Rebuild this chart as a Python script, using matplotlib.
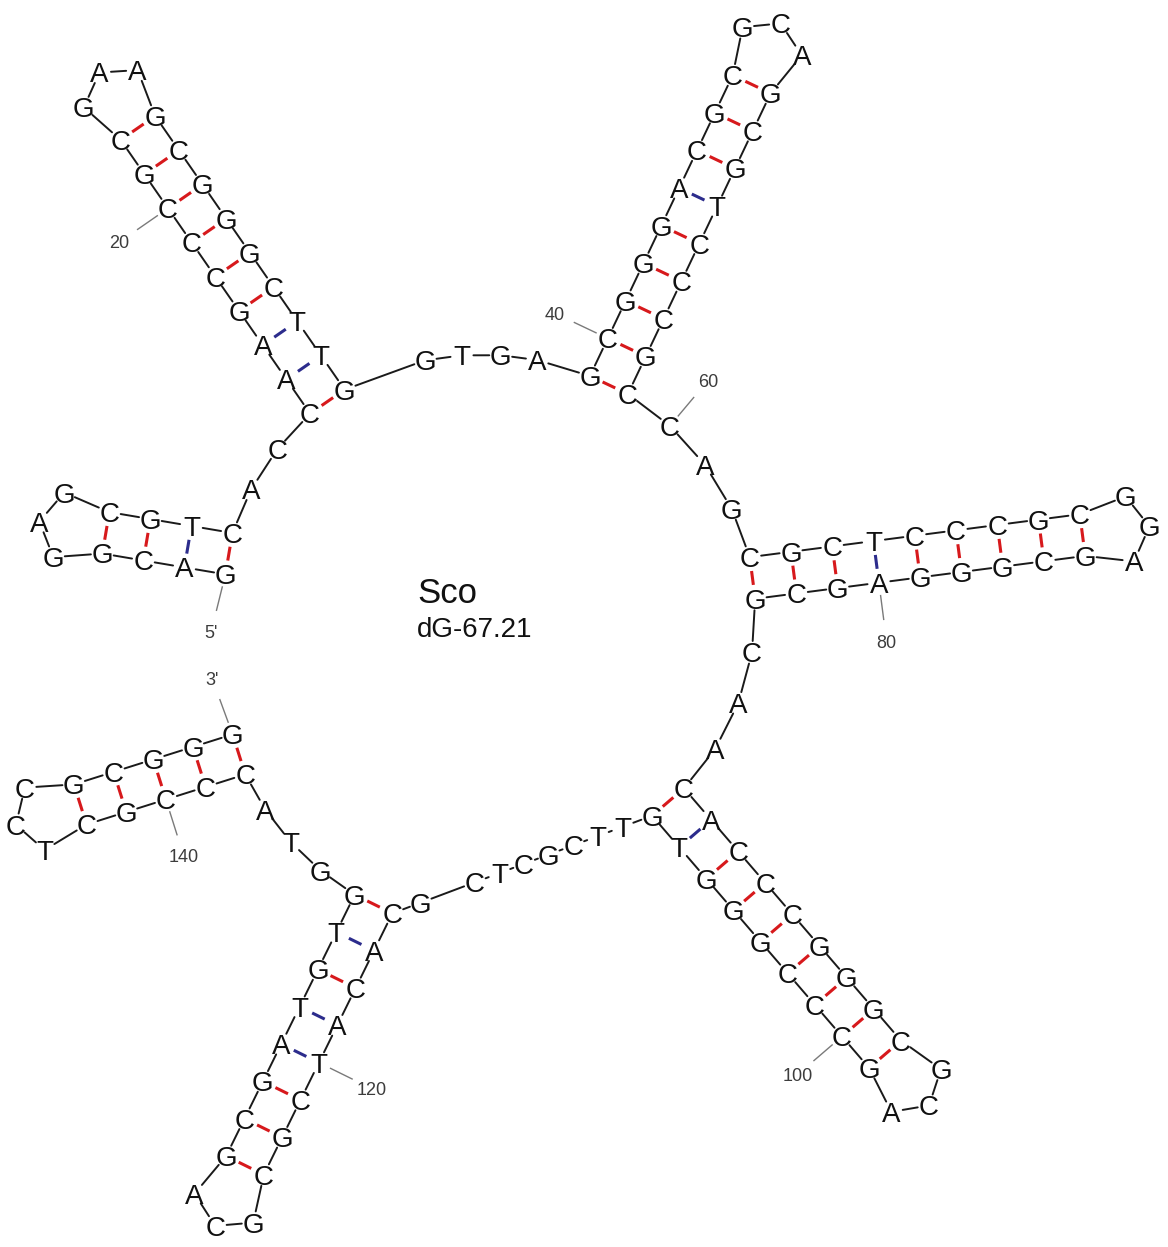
import numpy as np
import matplotlib
matplotlib.use("Agg")
import matplotlib.pyplot as plt

# ---------------- molecule ----------------
molecule_name = "Sco"
free_energy = "dG-67.21"

sequence = (
    "GACGGAGCGTC" "AC"
    "CAAGCCCGCGAAGCGGGCTTG" "GTGA"
    "GCGGGACGCGCAGCGTCCCGC" "CAG"
    "CGCTCCCGCGGAGCGGGAGCG" "CAA"
    "CACCCGGGCGCAGCCCGGGTG" "TTCGCTCG"
    "CACATCGCGCAGCGATGTG" "GTA"
    "CCCGCTCCGCGGG"
)
structure = (
    "((((...))))" ".."
    "(((((((((...)))))))))" "...."
    "(((((((((...)))))))))" "..."
    "(((((((((...)))))))))" "..."
    "(((((((((...)))))))))" "........"
    "((((((((...))))))))" "..."
    "(((((...)))))"
)
numbering_step = 20

# ---------------- layout (pixels) ----------------
WIDTH, HEIGHT = 1168, 1247
LOOP_CENTER = np.array([490.0, 640.0])
PAIR_WIDTH = 42.0
STACK_STEP = 41.6
HAIRPIN_RADIUS = 37.0
HAIRPIN_END_WEIGHT = 1.34
# helix placement, keyed by 5' base number: (anchor angle, anchor radius, helix angle)
HELIX_PLACEMENT = {
    1: (-161.7, 275.0, -170.4),
    14: (-124.3, 288.6, -124.7),
    39: (-65.0, 281.4, -64.6),
    63: (-13.3, 269.7, -7.4),
    87: (42.3, 240.7, 49.3),
    116: (113.8, 288.6, 116.2),
    138: (155.5, 275.9, 162.5),
}
# exterior linkers drawn as straight runs (keyed by the base preceding them)
FLAT_LINKERS = {107}
# relative spacing of the gaps along selected linkers (keyed the same way)
LINKER_WEIGHTS = {
    34: [2.3, 1.0, 1.05, 1.0, 1.5],
    107: [1.2, 1.0, 1.0, 1.0, 1.0, 1.0, 1.0, 2.2, 1.15],
}

BASE_FONT = 20
LABEL_FONT = 13
PX_PER_PT = 100 / 72
CAP = 0.716

BOND_COLORS = {frozenset("GC"): "#d7191c", frozenset("AT"): "#2c2c8c",
               frozenset("GT"): "#2c9c2c"}


def unit(deg):
    r = np.radians(deg)
    return np.array([np.cos(r), np.sin(r)])


def polar(pt):
    v = pt - LOOP_CENTER
    return np.hypot(*v), np.arctan2(v[1], v[0])


# ---------------- pairing ----------------
N = len(sequence)
partner = [-1] * N
stack = []
for k, ch in enumerate(structure):
    if ch == "(":
        stack.append(k)
    elif ch == ")":
        o = stack.pop()
        partner[o] = k
        partner[k] = o

helices = []
k = 0
while k < N:
    if partner[k] > k:
        i, j = k, partner[k]
        n = 0
        while i + n < j - n and partner[i + n] == j - n:
            n += 1
        helices.append((i, j, n))
        k = j + 1
    else:
        k += 1

pos = np.zeros((N, 2))
outward = np.zeros((N, 2))

# helices and their hairpin loops
for i, j, n in helices:
    a_ang, a_rad, h_ang = HELIX_PLACEMENT[i + 1]
    d = unit(h_ang)
    p = np.array([-d[1], d[0]])
    m0 = LOOP_CENTER + a_rad * unit(a_ang)
    for t in range(n):
        m = m0 + t * STACK_STEP * d
        pos[i + t] = m - PAIR_WIDTH / 2 * p
        pos[j - t] = m + PAIR_WIDTH / 2 * p
        outward[i + t] = -p
        outward[j - t] = p
    a, b = i + n - 1, j - n + 1
    m_last = m0 + (n - 1) * STACK_STEP * d
    hc = m_last + np.sqrt(HAIRPIN_RADIUS ** 2 - (PAIR_WIDTH / 2) ** 2) * d
    ta = np.arctan2(*(pos[a] - hc)[::-1])
    tb = np.arctan2(*(pos[b] - hc)[::-1])
    while tb <= ta:
        tb += 2 * np.pi
    loop = list(range(a + 1, b))
    w = np.array([HAIRPIN_END_WEIGHT] + [1.0] * (len(loop) - 1) + [HAIRPIN_END_WEIGHT])
    cum = np.cumsum(w)[:-1] / w.sum() * (tb - ta)
    for q, step in zip(loop, cum):
        th = ta + step
        e = np.array([np.cos(th), np.sin(th)])
        pos[q] = hc + HAIRPIN_RADIUS * e
        outward[q] = e

# exterior loop linkers
for (i1, j1, n1), (i2, j2, n2) in zip(helices[:-1], helices[1:]):
    free = list(range(j1 + 1, i2))
    if not free:
        continue
    r1, t1 = polar(pos[j1])
    r2, t2 = polar(pos[i2])
    while t2 <= t1:
        t2 += 2 * np.pi
    key = j1 + 1
    w = np.array(LINKER_WEIGHTS.get(key, [1.0] * (len(free) + 1)), dtype=float)
    fr = np.cumsum(w)[:-1] / w.sum()
    for q, f in zip(free, fr):
        th = t1 + f * (t2 - t1)
        e = np.array([np.cos(th), np.sin(th)])
        if key in FLAT_LINKERS:
            pos[q] = pos[j1] + f * (pos[i2] - pos[j1])
        else:
            pos[q] = LOOP_CENTER + (r1 + f * (r2 - r1)) * e
        outward[q] = e

# end labels run along the loop tangent
_, th5 = polar(pos[0])
_, th3 = polar(pos[-1])
end_marks = [("5'", pos[0], np.array([np.sin(th5), -np.cos(th5)])),
             ("3'", pos[-1], np.array([-np.sin(th3), np.cos(th3)]))]

# ---------------- drawing ----------------
fig = plt.figure(figsize=(WIDTH / 100, HEIGHT / 100), dpi=100)
ax = fig.add_axes([0, 0, 1, 1])
ax.set_xlim(0, WIDTH)
ax.set_ylim(HEIGHT, 0)
ax.axis("off")
plt.rcParams["font.family"] = ["Liberation Sans", "DejaVu Sans"]

GAP = 11.5
for q in range(N - 1):
    a, b = pos[q], pos[q + 1]
    v = b - a
    L = np.hypot(*v)
    u = v / L
    if L > 2 * GAP + 1:
        s0, s1 = a + GAP * u, b - GAP * u
        ax.plot([s0[0], s1[0]], [s0[1], s1[1]], color="#1a1a1a", lw=1.4,
                solid_capstyle="round", zorder=1)
    else:
        mid = (a + b) / 2
        ax.plot([mid[0]], [mid[1]], marker="o", ms=1.6, color="#1a1a1a", zorder=1)

BOND_GAP = 14.0
for q in range(N):
    r = partner[q]
    if r > q:
        a, b = pos[q], pos[r]
        u = (b - a) / np.hypot(*(b - a))
        s0, s1 = a + BOND_GAP * u, b - BOND_GAP * u
        col = BOND_COLORS.get(frozenset(sequence[q] + sequence[r]), "#555555")
        ax.plot([s0[0], s1[0]], [s0[1], s1[1]], color=col, lw=2.2,
                solid_capstyle="butt", zorder=2)

base_half = CAP * BASE_FONT * PX_PER_PT / 2
for q in range(N):
    ax.text(pos[q, 0], pos[q, 1] + base_half, sequence[q], fontsize=BASE_FONT,
            ha="center", va="baseline", color="#111111", zorder=3)

label_half = CAP * LABEL_FONT * PX_PER_PT / 2


def leader(text, at, direction):
    s0 = at + 13 * direction
    s1 = at + 37 * direction
    ax.plot([s0[0], s1[0]], [s0[1], s1[1]], color="#7a7a7a", lw=1.0, zorder=1)
    tp = at + 59 * direction
    ax.text(tp[0], tp[1] + label_half, text, fontsize=LABEL_FONT, ha="center",
            va="baseline", color="#3c3c3c")


for num in range(numbering_step, N + 1, numbering_step):
    leader(str(num), pos[num - 1], outward[num - 1])
for text, at, direction in end_marks:
    leader(text, at, direction)

ax.text(LOOP_CENTER[0] - 73, LOOP_CENTER[1] - 37, molecule_name, fontsize=25,
        ha="left", va="baseline", color="#111111")
ax.text(LOOP_CENTER[0] - 73, LOOP_CENTER[1] - 3, free_energy, fontsize=20,
        ha="left", va="baseline", color="#111111")

fig.savefig("out.png", dpi=100, facecolor="white")
